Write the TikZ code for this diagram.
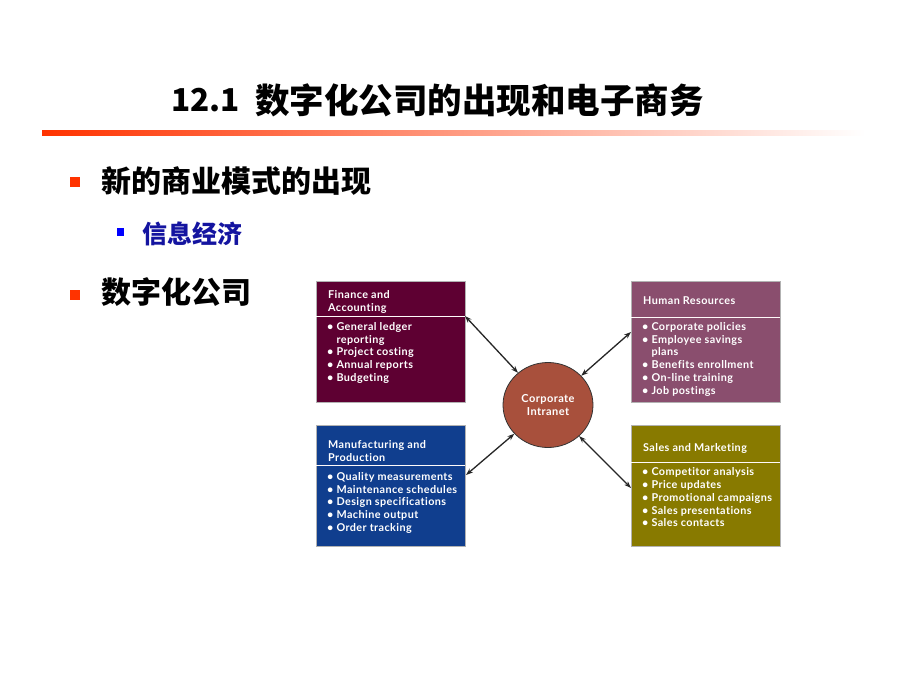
\documentclass[tikz,border=0pt]{standalone}
\usepackage{fontspec}
\setmainfont{Lato}
\newfontfamily\cjk{Noto Sans CJK SC}
\newfontfamily\boxfont{Lato}[LetterSpace=4, Ligatures=NoCommon]
\usetikzlibrary{arrows.meta,shapes.geometric}
\definecolor{finc}{RGB}{94,0,50}
\definecolor{hrc}{RGB}{138,78,110}
\definecolor{mfc}{RGB}{16,62,142}
\definecolor{slc}{RGB}{136,122,0}
\definecolor{circc}{RGB}{168,80,60}
\definecolor{bred}{RGB}{255,51,0}
\definecolor{bblue}{RGB}{0,0,255}
\definecolor{tblue}{RGB}{20,20,160}
\tikzset{
  box/.style={draw=gray!60, line width=0.8pt, inner sep=0pt, outer sep=0pt,
    minimum width=149, minimum height=121, anchor=north west},
  btxt/.style={text=white, font=\boxfont\bfseries\fontsize{10.8}{12.8}\selectfont,
    align=left, anchor=north west, inner sep=0pt},
  sepl/.style={draw=white!92!pink, line width=1pt},
  link/.style={{Stealth[length=7pt,width=5pt]}-{Stealth[length=7pt,width=5pt]}, line width=1.3pt, black!85},
  sq/.style={inner sep=0pt, minimum size=10, fill=bred},
  bigcjk/.style={font=\cjk\bfseries\fontsize{30}{34}\selectfont, anchor=west, inner sep=0pt}
}
\begin{document}
\begin{tikzpicture}[x=1pt,y=-1pt]
\useasboundingbox[fill=white] (0,0) rectangle (900,675);
% title
\node[font=\cjk\bfseries\fontsize{31.5}{40}\selectfont, anchor=west, inner sep=0pt] (tnum) at (171,100) {12.1};
\node[font=\cjk\bfseries\fontsize{34.5}{40}\selectfont, anchor=west, inner sep=0pt] (ttl) at (255,100) {数字化公司的出现和电子商务};
\shade[left color=bred, right color=white] (42,130) rectangle (865,135);
% bullets
\node[sq] (s1) at (75,182) {};
\node[bigcjk] (b1) at (101,181) {新的商业模式的出现};
\node[sq, fill=bblue, minimum size=7.5] (s2) at (120.5,232) {};
\node[bigcjk, font=\cjk\bfseries\fontsize{25}{30}\selectfont, text=tblue] (b2) at (142,234) {信息经济};
\node[sq] (s3) at (75,294.5) {};
\node[bigcjk] (b3) at (101,292) {数字化公司};
% boxes
\node[box, fill=finc] (fa) at (316,281) {};
\node[box, fill=hrc] (hr) at (631,281) {};
\node[box, fill=mfc] (mf) at (316,425) {};
\node[box, fill=slc] (sl) at (631,425) {};
\draw[sepl] (316,316) -- (465,316);
\draw[sepl] (631,317) -- (780,317);
\draw[sepl] (316,465) -- (465,465);
\draw[sepl] (631,462) -- (780,462);
% box texts
\node[btxt] (fah) at (328,290.5) {Finance and\\Accounting};
\node[btxt] (fai) at (327,322) {• General ledger\\\phantom{• }reporting\\• Project costing\\• Annual reports\\• Budgeting};
\node[btxt] (hrh) at (643,296.5) {Human Resources};
\node[btxt] (hri) at (642,322) {• Corporate policies\\• Employee savings\\\phantom{• }plans\\• Benefits enrollment\\• On-line training\\• Job postings};
\node[btxt] (mfh) at (328,440.5) {Manufacturing and\\Production};
\node[btxt] (mfi) at (327,472) {• Quality measurements\\• Maintenance schedules\\• Design specifications\\• Machine output\\• Order tracking};
\node[btxt] (slh) at (643,443.5) {Sales and Marketing};
\node[btxt] (sli) at (642,467.5) {• Competitor analysis\\• Price updates\\• Promotional campaigns\\• Sales presentations\\• Sales contacts};
% circle
\node[ellipse, draw=black!80, line width=0.8pt, fill=circc, minimum width=90, minimum height=85, inner sep=0pt,
  text=white, font=\boxfont\bfseries\fontsize{11}{12.5}\selectfont, align=center] (ci) at (548,405) {Corporate\\Intranet};
% connector endpoints
\coordinate (fap) at (465,316);
\coordinate (hrp) at (631,332);
\coordinate (mfp) at (466,475);
\coordinate (slp) at (631,488);
\draw[link] (fap) -- (ci);
\draw[link] (hrp) -- (ci);
\draw[link] (mfp) -- (ci);
\draw[link] (slp) -- (ci);
\end{tikzpicture}
\end{document}
